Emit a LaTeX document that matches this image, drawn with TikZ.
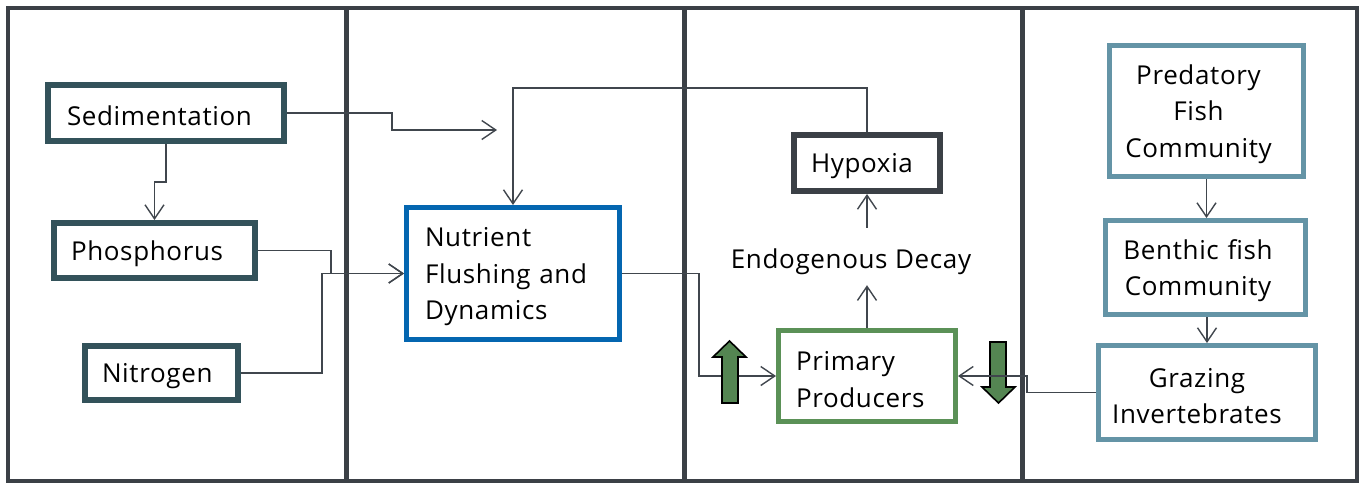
\documentclass[tikz,border=0pt]{standalone}
\usepackage{fontspec}
\setmainfont{Open Sans}[LetterSpace=2.5]
\usetikzlibrary{arrows.meta,calc}
\definecolor{frameC}{HTML}{3B4046}
\definecolor{slateC}{HTML}{33525A}
\definecolor{blueC}{HTML}{0466B0}
\definecolor{greenC}{HTML}{5B9157}
\definecolor{fillG}{HTML}{548552}
\definecolor{steelC}{HTML}{6494A6}
\definecolor{lineC}{HTML}{40464D}
\tikzset{
  txt/.style={font=\fontsize{26}{36.5}\selectfont, text=black},
  boxnode/.style={txt, draw=#1, fill=white, rectangle, inner ysep=0pt, align=left,
    execute at begin node={\rule{0pt}{26pt}}},
  cbox/.style={txt, draw=steelC, fill=white, rectangle, inner ysep=0pt, align=center,
    line width=5pt, execute at begin node={\rule{0pt}{26pt}\advance\rightskip by #1}},
  arr/.style={draw=lineC, line width=1.4pt, -{Straight Barb[length=14pt,width=19pt,line width=1.4pt]}},
  blockarrow/.style={fill=fillG, draw=black, line width=1.6pt, line join=miter},
  divider/.style={draw=frameC, line width=5pt},
}
\begin{document}
\begin{tikzpicture}[x=1pt,y=-1pt]
\useasboundingbox (0,0) rectangle (1361,485);
% frame and dividers
\draw[frameC, line width=4pt] (8,8) rectangle (1357,481);
\draw[divider] (346,8) -- (346,481);
\draw[divider] (684,8) -- (684,481);
\draw[divider] (1022,8) -- (1022,481);

% boxes
\node[boxnode=slateC, line width=6pt, minimum width=236pt, minimum height=56pt, inner xsep=19pt, text width=198pt] (sed) at (166,113) {Sedimentation};
\node[boxnode=slateC, line width=6pt, minimum width=201pt, minimum height=55pt, inner xsep=17pt, text width=167pt] (phos) at (154.5,250.5) {Phosphorus};
\node[boxnode=slateC, line width=6pt, minimum width=153pt, minimum height=54pt, inner xsep=17pt, text width=119pt] (nit) at (161.5,373) {Nitrogen};
\node[boxnode=blueC, line width=5pt, minimum width=213pt, minimum height=132pt, inner xsep=18.5pt, text width=176pt] (nut) at (513,273.5) {Nutrient\\Flushing and\\Dynamics};
\node[boxnode=frameC, line width=6pt, minimum width=146pt, minimum height=56pt, inner xsep=17pt, text width=112pt] (hyp) at (867,163) {Hypoxia};
\node[txt, inner sep=0pt, minimum height=57pt, text height=23pt, text depth=0pt] (endo) at (851,256.5) {Endogenous Decay};
\node[boxnode=greenC, line width=5pt, minimum width=177pt, minimum height=91pt, inner xsep=17.5pt, text width=142pt] (pp) at (867,376) {Primary\\Producers};
\node[cbox=16pt, minimum width=194pt, minimum height=131pt, inner xsep=6pt, text width=182pt] (pred) at (1206.5,111) {Predatory\\Fish\\Community};
\node[cbox=15pt, minimum width=200pt, minimum height=94pt, inner xsep=6pt, text width=188pt] (ben) at (1205.5,267.5) {Benthic fish\\Community};
\node[cbox=20pt, minimum width=217pt, minimum height=94pt, inner xsep=6pt, text width=205pt] (graz) at (1207,392.5) {Grazing\\Invertebrates};

% connectors
\coordinate (sedend) at (497,130);
\draw[arr] (sed.east) -- (392,113) |- (sedend);
\draw[arr] (sed.south) -- ++(0,38) -| (phos.north);
\draw[arr] (phos.east) -| ($(nut.west)+(-73,0)$) -- (nut.west);
\draw[arr] (nit.east) -| ($(nut.west)+(-82,0)$) -- (nut.west);
\draw[arr] (hyp.north) -- ++(0,-44) -| (nut.north);
\draw[arr] (endo.north -| hyp.south) -- (hyp.south);
\draw[arr] (pp.north) -- (pp.north |- endo.south);
\draw[arr] (nut.east) -| ($(pp.west)+(-77,0)$) -- (pp.west);
\draw[arr] (pred.south) -- (pred.south |- ben.north);
\draw[arr] (ben.south -| graz.north) -- (graz.north);

% block arrows
\draw[blockarrow] (722,403) -- (722,357) -- (713,357) -- (729.5,341) -- (746,357) -- (738,357) -- (738,403) -- cycle;
\draw[blockarrow] (990,342) -- (990,387) -- (982,387) -- (998.5,403) -- (1015,387) -- (1006,387) -- (1006,342) -- cycle;

\draw[arr] (graz.west) -| ($(pp.east)+(69,0)$) -- (pp.east);
\end{tikzpicture}
\end{document}
